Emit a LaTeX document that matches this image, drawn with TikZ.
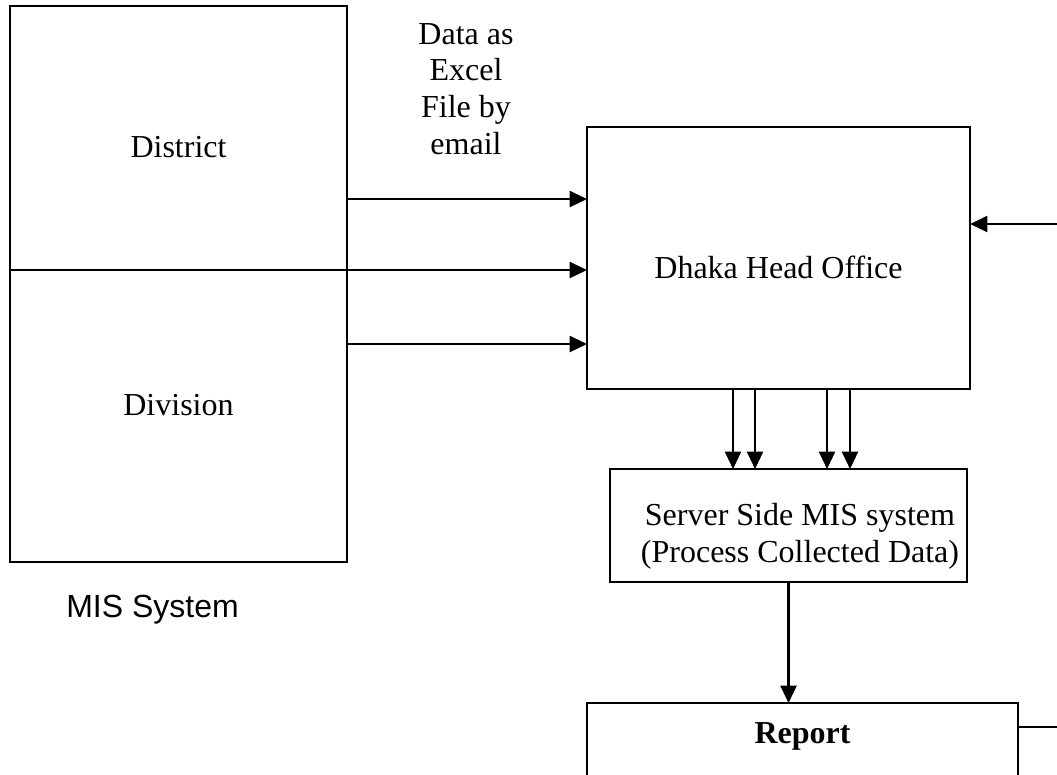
\documentclass[tikz,border=0pt]{standalone}
\usepackage{fontspec}
\setmainfont{Liberation Serif}
\newfontfamily\arialfont{Liberation Sans}
\usetikzlibrary{arrows.meta,positioning}
\begin{document}
\begin{tikzpicture}[x=0.375pt,y=-0.375pt,line width=0.8pt,
		>={Triangle[length=6.5pt,width=6pt]},
		box/.style={draw,rectangle,inner sep=0pt,outer sep=0pt},
		lbl/.style={inner sep=0pt,anchor=base,font=\fontsize{12}{13.8}\selectfont}]
	\path[use as bounding box,clip] (0,0) rectangle (1057,774);
	\node[box,minimum width=126.375pt,minimum height=99pt] (district) at (178.5,138) {};
	\node[box,minimum width=126.375pt,minimum height=109.5pt,below=0pt of district] (division) {};
	\node[box,minimum width=143.625pt,minimum height=98.25pt] (head) at (778.5,258) {};
	\node[box,minimum width=133.875pt,minimum height=42.375pt] (server) at (788.5,525.5) {};
	\node[box,minimum width=161.625pt,minimum height=75pt] (report) at (802.5,803) {};
	\node[lbl] (district-lbl) at (178.5,157) {District};
	\node[lbl] (division-lbl) at (178.5,415) {Division};
	\node[lbl,anchor=center,align=center] (mail-lbl) at (466,89) {Data as\\Excel\\File by\\email};
	\node[lbl] (head-lbl) at (778.5,278) {Dhaka Head Office};
	\node[lbl,anchor=center,align=center] (server-lbl) at (800,536) {Server Side MIS system\\(Process Collected Data)};
	\node[lbl,font=\fontsize{12}{13.8}\selectfont\bfseries] (report-lbl) at (802.5,743) {Report};
	\node[lbl,font=\arialfont\fontsize{12}{13.8}\selectfont] (mis-lbl) at (152.5,617) {MIS System};
	\coordinate (d-out) at (347,199);
	\coordinate (v-out) at (347,344);
	\coordinate (hq-in) at (1057,224);
	\coordinate (rep-out) at (1057,727);
	\path[->]
	(d-out) edge (d-out -| head.west)
	(district.south east) edge (district.south east -| head.west)
	(v-out) edge (v-out -| head.west)
	(hq-in) edge (hq-in -| head.east)
	(server.south) edge (server.south |- report.north);
	\draw (report.east |- rep-out) -- (rep-out);
	\foreach \dx in {-45.5,-23.5,48.5,71.5}{
		\path ([xshift=\dx*0.375pt]head.south) coordinate (dn);
		\draw[->] (dn) -- (dn |- server.north);
	}
\end{tikzpicture}
\end{document}
